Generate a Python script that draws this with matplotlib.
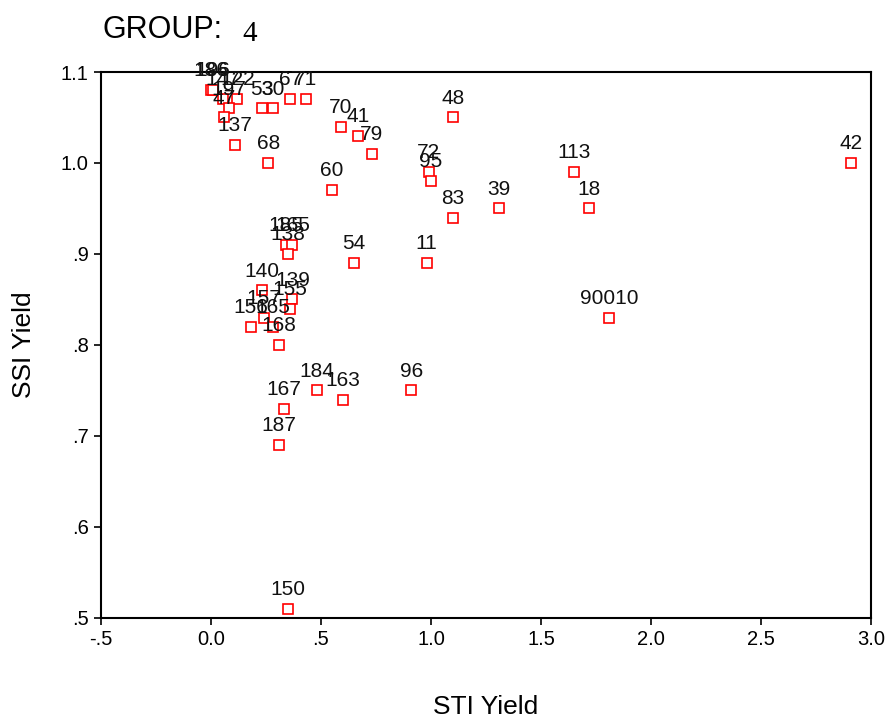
import matplotlib
matplotlib.use('Agg')
import matplotlib.pyplot as plt

# case labels, STI yield (x), SSI yield (y)
labels = ['186', '196', '147', '122', '197', '47', '137', '53', '30', '67',
          '71', '70', '41', '79', '68', '48', '72', '95', '60', '113',
          '18', '39', '83', '42', '185', '165', '138', '54', '11', '140',
          '139', '155', '157', '156', '165', '168', '184', '163', '96', '167',
          '187', '90010', '150']
sti = [0.00, 0.01, 0.055, 0.12, 0.08, 0.06, 0.11, 0.23, 0.28, 0.36,
       0.43, 0.59, 0.67, 0.73, 0.26, 1.10, 0.99, 1.00, 0.55, 1.65,
       1.72, 1.31, 1.10, 2.91, 0.34, 0.37, 0.35, 0.65, 0.98, 0.23,
       0.37, 0.36, 0.24, 0.18, 0.28, 0.31, 0.48, 0.60, 0.91, 0.33,
       0.31, 1.81, 0.35]
ssi = [1.08, 1.08, 1.07, 1.07, 1.06, 1.05, 1.02, 1.06, 1.06, 1.07,
       1.07, 1.04, 1.03, 1.01, 1.00, 1.05, 0.99, 0.98, 0.97, 0.99,
       0.95, 0.95, 0.94, 1.00, 0.91, 0.91, 0.90, 0.89, 0.89, 0.86,
       0.85, 0.84, 0.83, 0.82, 0.82, 0.80, 0.75, 0.74, 0.75, 0.73,
       0.69, 0.83, 0.51]

x_ticks = [-0.5, 0.0, 0.5, 1.0, 1.5, 2.0, 2.5, 3.0]
x_tick_labels = ['-.5', '0.0', '.5', '1.0', '1.5', '2.0', '2.5', '3.0']
y_ticks = [0.5, 0.6, 0.7, 0.8, 0.9, 1.0, 1.1]
y_tick_labels = ['.5', '.6', '.7', '.8', '.9', '1.0', '1.1']

plt.rcParams['font.family'] = ['Liberation Sans', 'DejaVu Sans']

fig = plt.figure(figsize=(8.86, 7.2), dpi=100)
ax = fig.add_axes([0.114, 0.1417, 0.869, 0.7583])

ax.plot(sti, ssi, linestyle='none', marker='s', markersize=7,
        markerfacecolor='white', markeredgecolor='red', markeredgewidth=1.2)

for i, label in enumerate(labels):
    ax.annotate(label, (sti[i], ssi[i]), xytext=(0, 10), textcoords='offset points',
                ha='center', va='baseline', fontsize=15, color='#111111',
                annotation_clip=False)

ax.set_xlim(-0.5, 3.0)
ax.set_ylim(0.5, 1.1)
ax.set_xticks(x_ticks)
ax.set_xticklabels(x_tick_labels)
ax.set_yticks(y_ticks)
ax.set_yticklabels(y_tick_labels)
ax.tick_params(labelsize=14.5, length=5, width=1.2, direction='out', pad=4)

for s in ax.spines.values():
    s.set_linewidth(1.5)

ax.set_xlabel('STI Yield', fontsize=19, labelpad=33)
ax.set_ylabel('SSI Yield', fontsize=19, labelpad=18)

fig.text(0.116, 0.947, 'GROUP:', fontsize=22, ha='left', va='baseline')
fig.text(0.274, 0.943, '4', fontsize=21, ha='left', va='baseline',
         family=['Liberation Serif', 'DejaVu Serif'])

fig.savefig('out.png', dpi=100)
